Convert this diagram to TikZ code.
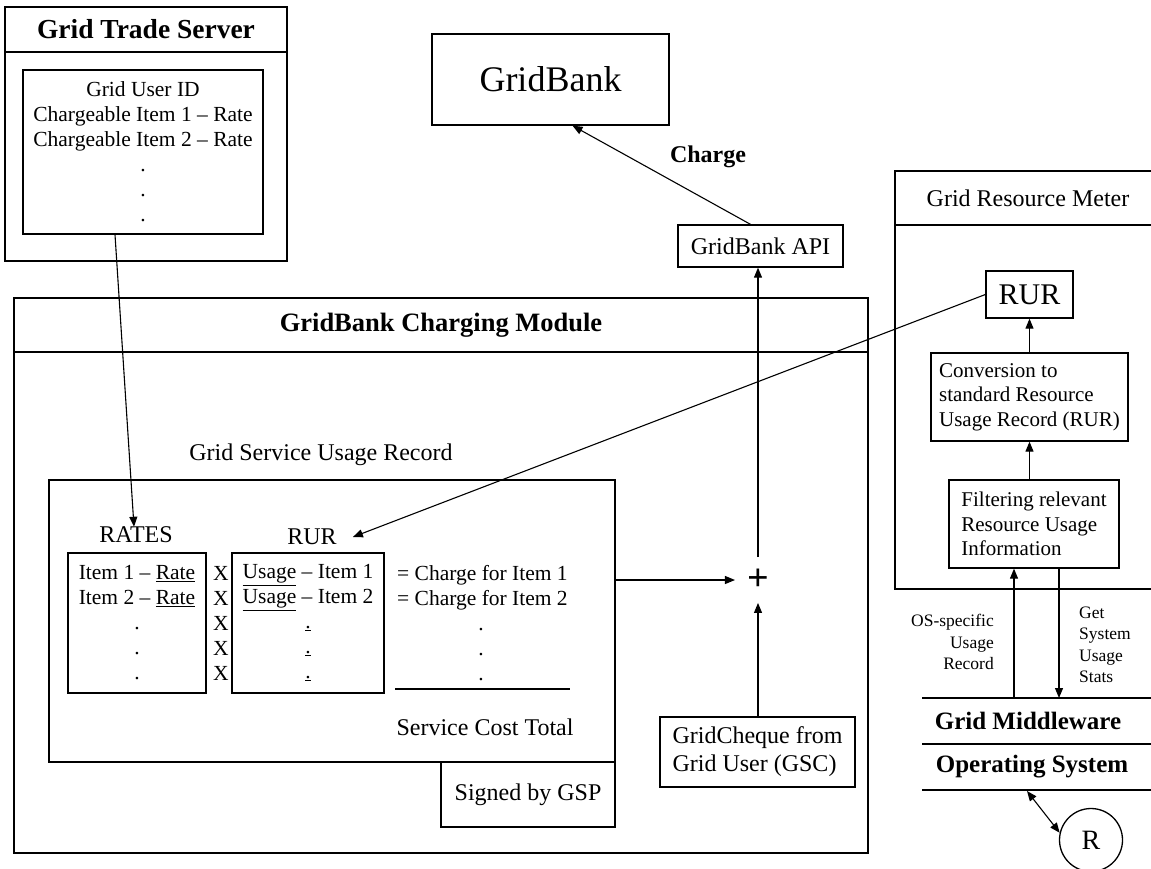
\documentclass[tikz,border=0pt]{standalone}
\usepackage{fontspec}
\setmainfont{Liberation Serif}
\usetikzlibrary{shapes,positioning,arrows.meta}
\tikzstyle{box}=[draw, line width=1.3pt, inner sep=0pt, font=\fontsize{24}{28}\selectfont]
\tikzstyle{listbox}=[box, font=\fontsize{21.5}{25}\selectfont]
\tikzstyle{txt}=[inner sep=0pt, font=\fontsize{24}{28}\selectfont]
\tikzstyle{listtxt}=[inner sep=0pt, font=\fontsize{21.5}{25}\selectfont]
\tikzstyle{head}=[inner sep=0pt, font=\bfseries\fontsize{25}{30}\selectfont]
\tikzstyle{small}=[inner sep=0pt, font=\fontsize{17.5}{21.5}\selectfont]
\tikzstyle{arr}=[line width=1.1pt, -{Triangle[length=10pt,width=8pt]}]
\tikzstyle{arrboth}=[line width=1.1pt, {Triangle[length=10pt,width=8pt]}-{Triangle[length=10pt,width=8pt]}]

\begin{document}
\begin{tikzpicture}[x=1pt,y=-1pt]
            \useasboundingbox (0,0) rectangle (1151,868);

            \begin{scope}[every node/.style={box}]
                \node[minimum width=282pt, minimum height=254pt] (trade) at (146,134) {};
                \node[minimum width=282pt, minimum height=45pt, font=\bfseries\fontsize{27.5}{30}\selectfont] (tradetitle) at (146,29.5) {Grid Trade Server};
                \node[listbox, minimum width=240pt, minimum height=164pt, align=center] (tradelist) at (143,152) {Grid User ID\\Chargeable Item 1 – Rate\\Chargeable Item 2 – Rate\\.\\.\\.};
                \node[minimum width=237pt, minimum height=91pt, font=\fontsize{36}{40}\selectfont] (gridbank) at (550.5,79.5) {GridBank};
                \node[minimum width=165pt, minimum height=42pt] (api) at (760.5,246) {GridBank API};

                \node[minimum width=854pt, minimum height=555pt] (module) at (441,575.5) {};
                \node[minimum width=854pt, minimum height=54pt, font=\bfseries\fontsize{26.5}{30}\selectfont] (moduletitle) at (441,325) {GridBank Charging Module};
                \node[minimum width=566pt, minimum height=282pt] (record) at (332,621) {};
                \node[minimum width=174pt, minimum height=65pt] (signed) at (528,794.5) {Signed by GSP};
                \node[listbox, minimum width=138pt, minimum height=140pt, align=center] (rates) at (137,623) {Item 1 – \underline{Rate}\\Item 2 – \underline{Rate}\\.\\.\\.};
                \node[listbox, minimum width=152pt, minimum height=140pt, align=center] (rur) at (308,623) {\underline{Usage} – Item 1\\\underline{Usage} – Item 2\\\underline{.}\\\underline{.}\\\underline{.}};
                \node[minimum width=195pt, minimum height=70pt, align=left] (cheque) at (757.5,752) {GridCheque from\\Grid User (GSC)};

                \node[minimum width=270pt, minimum height=418pt] (meter) at (1030,380) {};
                \node[minimum width=270pt, minimum height=54pt] (metertitle) at (1030,198) {};
                \node[minimum width=87pt, minimum height=47pt, font=\fontsize{30}{32}\selectfont] (mrur) at (1029.5,294.5) {RUR};
                \node[listbox, minimum width=197pt, minimum height=88pt, align=left, font=\fontsize{21}{24.5}\selectfont] (conv) at (1029.5,397) {Conversion to\\standard Resource\\Usage Record (RUR)};
                \node[listbox, minimum width=170pt, minimum height=88pt, align=left, font=\fontsize{21}{24.5}\selectfont] (filt) at (1034,524) {Filtering relevant\\Resource Usage\\Information};
                \node[circle, minimum size=63pt, font=\fontsize{28}{30}\selectfont] (res) at (1091,840) {R};
            \end{scope}

            \node[txt] (metername) at (1028,198) {Grid Resource Meter};
            \node[head, font=\bfseries\fontsize{24}{28}\selectfont] (chargelbl) at (708,157) {Charge};
            \node[txt] (recordlbl) at (321,455) {Grid Service Usage Record};
            \node[txt] (rateslbl) at (136,535) {RATES};
            \node[txt] (rurlbl) at (312,537) {RUR};
            \foreach \y in {580,605,630,655,680}
                \node[listtxt, anchor=base] (times\y) at (221,\y) {X};
            \node[listtxt, anchor=base west] (charge1) at (397,580) {= Charge for Item 1};
            \node[listtxt, anchor=base west] (charge2) at (397,605) {= Charge for Item 2};
            \foreach \y in {630,655,680}
                \node[listtxt, anchor=base] (cdot\y) at (481,\y) {.};
            \coordinate (totalL) at (395,689);
            \coordinate (totalR) at (570,689);
            \draw[line width=1.3pt] (totalL) -- (totalR);
            \node[txt] (total) at (485,727) {Service Cost Total};
            \node[inner sep=12pt, font=\bfseries\fontsize{38}{38}\selectfont] (plus) at (758,580) {+};

            \foreach \y in {698,744,790}
                \draw[line width=1.3pt] (922,\y) -- (1160,\y);
            \coordinate (mwline) at (922,698);
            \coordinate (osr) at (1027,791);
            \node[head] (middleware) at (1028,721) {Grid Middleware};
            \node[head] (opsys) at (1032,767) {Operating System};
            \node[small, align=right, anchor=east] (oslbl) at (994,642) {OS-specific\\Usage\\Record};
            \node[small, align=left, anchor=west] (getlbl) at (1079,645) {Get\\System\\Usage\\Stats};

            \draw[arr] ([xshift=-28pt]tradelist.south) -- ([xshift=-2pt]rateslbl.north);
            \draw[arr] ([xshift=-10pt]api.north) -- ([xshift=22pt]gridbank.south);
            \draw[arr] (mrur.west) -- ([xshift=16pt]rurlbl.east);
            \draw[arr] (record.east |- plus) -- (plus.west);
            \draw[arr] (cheque.north -| plus) -- (plus.south);
            \draw[arr] (plus.north) -- (plus.north |- api.south);
            \draw[arr] (conv.north -| mrur) -- (mrur.south);
            \draw[arr] (filt.north -| conv) -- (conv.south);
            \draw[arr] ([xshift=-20pt]filt.south |- mwline) -- ([xshift=-20pt]filt.south);
            \draw[arr] ([xshift=25pt]filt.south) -- ([xshift=25pt]filt.south |- mwline);
            \draw[arrboth] (osr) -- (res.167);
\end{tikzpicture}
\end{document}
